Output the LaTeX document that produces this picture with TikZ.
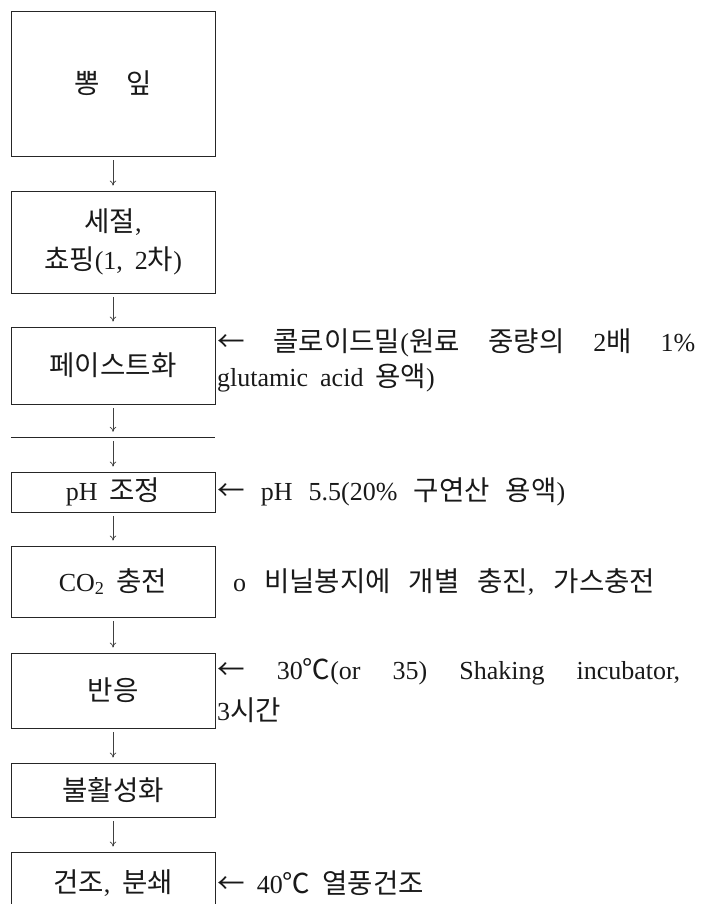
\documentclass[tikz,border=0pt]{standalone}
\usepackage{fontspec}
\setmainfont{Liberation Serif}
\newfontfamily\krfont{Noto Sans CJK KR}[Scale=1.06]
\newcommand\kor[1]{{\krfont #1}}
\usetikzlibrary{arrows.meta}
\begin{document}
\begin{tikzpicture}[x=1pt,y=-1pt,
  every node/.style={inner sep=0pt},
  txt/.style={font={\fontsize{26}{38}\selectfont\spaceskip=12pt plus 30pt minus 3pt}, text=black!90},
  box/.style={txt, draw=black!85, line width=0.9pt, minimum width=204pt, align=center},
  flow/.style={draw=black!75, line width=0.7pt, -{To[length=5pt,width=6.5pt]}, shorten <=4pt, shorten >=5pt},
  side/.style={txt, anchor=west}]
\useasboundingbox (0,0) rectangle (708,904);
\node[box, minimum height=145pt] (b1) at (113,83.5) {\kor{뽕}\hspace{27pt}\kor{잎}};
\node[box, minimum height=102pt] (b2) at (113,242) {\kor{세절},\\\kor{쵸핑}(1, 2\kor{차})};
\node[box, minimum height=77pt] (b3) at (113,365.5) {\kor{페이스트화}};
\node[minimum width=204pt, minimum height=0pt] (hl) at (113,437) {};
\draw[line width=0.9pt, draw=black!85] (hl.west) -- (hl.east);
\node[box, minimum height=40pt] (b4) at (113,492) {pH \kor{조정}};
\node[box, minimum height=71pt] (b5) at (113,581.5) {CO\textsubscript{2} \kor{충전}};
\node[box, minimum height=75pt] (b6) at (113,690.5) {\kor{반응}};
\node[box, minimum height=54pt] (b7) at (113,790) {\kor{불활성화}};
\node[box, minimum height=62pt] (b8) at (113,883) {\kor{건조}, \kor{분쇄}};
\draw[flow] (b1) -- (b2);
\draw[flow] (b2) -- (b3);
\draw[flow] (b3) -- (hl);
\draw[flow] (hl) -- (b4);
\draw[flow] (b4) -- (b5);
\draw[flow] (b5) -- (b6);
\draw[flow] (b6) -- (b7);
\draw[flow] (b7) -- (b8);
\node[side] (t3a) at (217,343) {\makebox[478pt][s]{\kor{←} \kor{콜로이드밀}(\kor{원료} \kor{중량의} 2\kor{배} 1\%}};
\node[side] (t3b) at (217,378) {glutamic acid \kor{용액})};
\node[side] (t4) at (217,492) {\makebox[348pt][s]{\kor{←} pH 5.5(20\% \kor{구연산} \kor{용액})}};
\node[side] (t5) at (233,582) {\makebox[422pt][s]{o \kor{비닐봉지에} \kor{개별} \kor{충진}, \kor{가스충전}}};
\node[side] (t6a) at (217,672) {\makebox[463pt][s]{\kor{←} 30\kor{℃}(or 35) Shaking incubator,}};
\node[side] (t6b) at (217,710) {3\kor{시간}};
\node[side] (t8) at (217,883) {\kor{←} 40\kor{℃} \kor{열풍건조}};
\end{tikzpicture}
\end{document}
